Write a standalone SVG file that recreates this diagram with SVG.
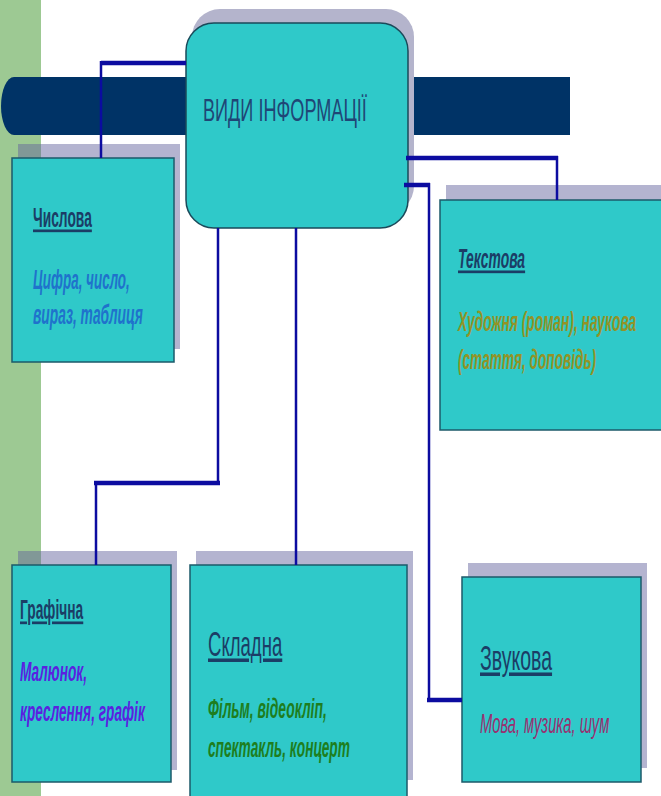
<svg xmlns="http://www.w3.org/2000/svg" width="661" height="796" viewBox="0 0 661 796">
<style>
text{font-family:"Liberation Sans",Arial,sans-serif}
.box{fill:#2fc9c9;stroke:#1c5a6a;stroke-width:1.5}
.sh{fill:#62629c;opacity:.48}
.hd{fill:#1b3d66;font-weight:bold;font-size:27px;text-decoration:underline}
.hd2{fill:#1b3d66;font-size:35px;text-decoration:underline}
.it{font-style:italic;font-weight:bold;font-size:27px}
.c{stroke:#0c0ca0;fill:none}
.t{stroke-width:2.5}
.k{stroke-width:4.5}
</style>
<rect x="0" y="0" width="661" height="796" fill="#ffffff"/>
<rect x="0" y="0" width="41" height="796" fill="#9dc993"/>
<path d="M14 77 H570 V135 H14 A13 29 0 0 1 14 77 Z" fill="#003366"/>

<g id="node-center">
<rect x="192" y="9" width="222" height="205" rx="28" fill="#b4b4cc"/>
<rect x="186" y="23" width="222" height="205" rx="28" fill="#2fc9c9" stroke="#1a4a5a" stroke-width="1.5"/>
<text transform="translate(203 121) scale(0.55 1)" font-size="32" fill="#1f4676" textLength="298" lengthAdjust="spacingAndGlyphs">ВИДИ ІНФОРМАЦІЇ</text>
</g>

<g id="node-chyslova">
<rect class="sh" x="18" y="144" width="162" height="205"/>
<rect class="box" x="12" y="158" width="162" height="204"/>
<text class="hd" transform="translate(33 227) scale(0.55 1)" textLength="107" lengthAdjust="spacingAndGlyphs">Числова</text>
<text class="it" transform="translate(33 289) scale(0.55 1)" fill="#1f72cc" textLength="176" lengthAdjust="spacingAndGlyphs">Цифра, число,</text>
<text class="it" transform="translate(33 324) scale(0.55 1)" fill="#1f72cc" textLength="200" lengthAdjust="spacingAndGlyphs">вираз, таблиця</text>
</g>

<g id="node-tekstova">
<rect class="sh" x="446" y="185" width="230" height="230"/>
<rect class="box" x="440" y="200" width="230" height="230"/>
<text class="hd" transform="translate(458 268) scale(0.55 1)" font-style="italic" textLength="122" lengthAdjust="spacingAndGlyphs">Текстова</text>
<text class="it" transform="translate(458 331) scale(0.55 1)" fill="#939327" textLength="324" lengthAdjust="spacingAndGlyphs">Художня (роман), наукова</text>
<text class="it" transform="translate(458 369) scale(0.55 1)" fill="#939327" textLength="251" lengthAdjust="spacingAndGlyphs">(стаття, доповідь)</text>
</g>

<g id="node-grafichna">
<rect class="sh" x="18" y="551" width="159" height="219"/>
<rect class="box" x="12" y="565" width="159" height="217"/>
<text class="hd" transform="translate(20 619) scale(0.55 1)" textLength="115" lengthAdjust="spacingAndGlyphs">Графічна</text>
<text class="it" transform="translate(20 681) scale(0.55 1)" fill="#5a22e0" textLength="122" lengthAdjust="spacingAndGlyphs">Малюнок,</text>
<text class="it" transform="translate(20 721) scale(0.55 1)" fill="#5a22e0" textLength="227" lengthAdjust="spacingAndGlyphs">креслення, графік</text>
</g>

<g id="node-skladna">
<rect class="sh" x="196" y="551" width="217" height="229"/>
<rect class="box" x="190" y="565" width="217" height="235"/>
<text class="hd2" transform="translate(208 656) scale(0.55 1)" textLength="135" lengthAdjust="spacingAndGlyphs">Складна</text>
<text class="it" transform="translate(208 718) scale(0.55 1)" fill="#1e7e1e" textLength="216" lengthAdjust="spacingAndGlyphs">Фільм, відеокліп,</text>
<text class="it" transform="translate(208 757) scale(0.55 1)" fill="#1e7e1e" textLength="258" lengthAdjust="spacingAndGlyphs">спектакль, концерт</text>
</g>

<g id="node-zvukova">
<rect class="sh" x="468" y="563" width="179" height="205"/>
<rect class="box" x="462" y="577" width="179" height="205"/>
<text class="hd2" transform="translate(480 670) scale(0.55 1)" textLength="131" lengthAdjust="spacingAndGlyphs">Звукова</text>
<text transform="translate(480 733) scale(0.55 1)" font-size="27" font-style="italic" fill="#9a3070" textLength="235" lengthAdjust="spacingAndGlyphs">Мова, музика, шум</text>
</g>

<g id="connectors" class="c">
<line class="k" x1="101" y1="63" x2="186" y2="63"/>
<line class="t" x1="101" y1="61" x2="101" y2="158"/>
<line class="k" x1="406" y1="158" x2="558" y2="158"/>
<line class="t" x1="557" y1="156" x2="557" y2="200"/>
<line class="k" x1="404" y1="185" x2="430" y2="185"/>
<line class="t" x1="429" y1="183" x2="429" y2="700"/>
<line class="k" x1="427" y1="700" x2="462" y2="700"/>
<line class="t" x1="218" y1="228" x2="218" y2="485"/>
<line class="k" x1="94" y1="483" x2="220" y2="483"/>
<line class="t" x1="96" y1="481" x2="96" y2="565"/>
<line class="t" x1="296" y1="228" x2="296" y2="565"/>
</g>
</svg>
